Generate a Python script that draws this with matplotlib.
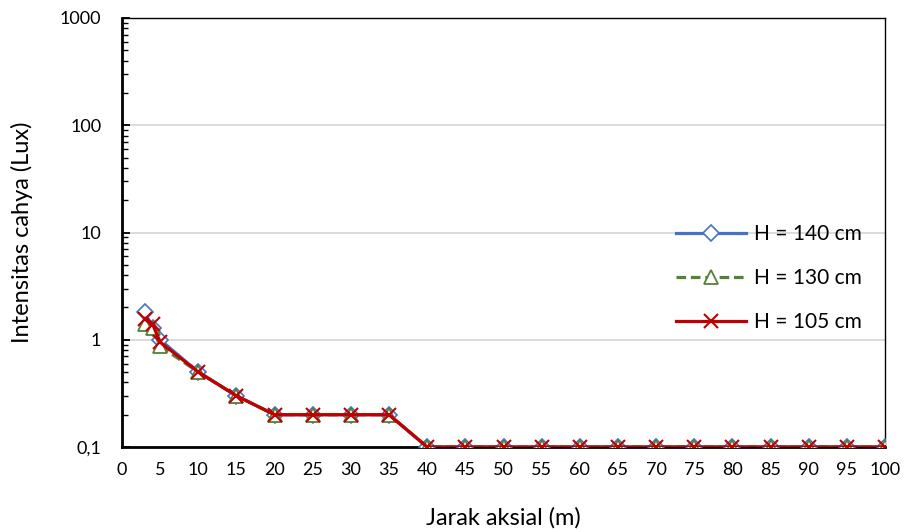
import matplotlib.pyplot as plt
from matplotlib.ticker import FixedLocator, LogLocator, NullFormatter

plt.rcParams['font.family'] = ['Lato', 'DejaVu Sans']

jarak = [3, 4, 5, 10, 15, 20, 25, 30, 35, 40, 45, 50, 55, 60, 65, 70, 75, 80, 85, 90, 95, 100]
h140 = [1.8, 1.3, 1.0, 0.5, 0.3, 0.2, 0.2, 0.2, 0.2, 0.1, 0.1, 0.1, 0.1, 0.1, 0.1, 0.1, 0.1, 0.1, 0.1, 0.1, 0.1, 0.1]
h130 = [1.4, 1.3, 0.87, 0.5, 0.3, 0.2, 0.2, 0.2, 0.2, 0.1, 0.1, 0.1, 0.1, 0.1, 0.1, 0.1, 0.1, 0.1, 0.1, 0.1, 0.1, 0.1]
h105 = [1.55, 1.4, 0.95, 0.5, 0.3, 0.2, 0.2, 0.2, 0.2, 0.1, 0.1, 0.1, 0.1, 0.1, 0.1, 0.1, 0.1, 0.1, 0.1, 0.1, 0.1, 0.1]
ytick_vals = [0.1, 1, 10, 100, 1000]
ytick_labels = ["0,1", "1", "10", "100", "1000"]

fig = plt.figure(figsize=(9.05, 5.32), dpi=100)
ax = fig.add_axes([122 / 905, 1 - 447 / 532, 763 / 905, 429 / 532])

ax.plot(jarak, h140, color="#4472C4", lw=2.3, marker="D", ms=8,
        mfc="white", mec="#4472C4", mew=1.2, label="H = 140 cm", zorder=3)
ax.plot(jarak, h130, color="#548235", lw=2.3, ls=(0, (3, 1.5)), marker="^", ms=9.5,
        mfc="white", mec="#548235", mew=1.3, label="H = 130 cm", zorder=4)
ax.plot(jarak, h105, color="#C00000", lw=2.3, marker="x", ms=10,
        mec="#C00000", mew=1.5, label="H = 105 cm", zorder=5)

ax.set_yscale("log")
ax.set_ylim(0.1, 1000)
ax.set_xlim(0, 100)
ax.set_xticks(range(0, 101, 5))
ax.yaxis.set_major_locator(FixedLocator(ytick_vals))
ax.set_yticklabels(ytick_labels)
ax.yaxis.set_minor_locator(LogLocator(base=10, subs=range(2, 10)))
ax.yaxis.set_minor_formatter(NullFormatter())
ax.tick_params(axis="y", which="major", direction="in", length=6, width=1.3, labelsize=13, pad=15)
ax.tick_params(axis="y", which="minor", direction="in", length=4, width=1.0)
ax.tick_params(axis="x", length=0, labelsize=13, pad=11)
ax.grid(axis="y", which="major", color="#D9D9D9", lw=1.3)
ax.set_axisbelow(True)

for side in ["left", "bottom"]:
    ax.spines[side].set_linewidth(2)
for side in ["top", "right"]:
    ax.spines[side].set_linewidth(1)

ax.set_xlabel("Jarak aksial (m)", fontsize=17, labelpad=21)
ax.set_ylabel("Intensitas cahya (Lux)", fontsize=17, labelpad=19)

ax.legend(loc="center left", bbox_to_anchor=(0.701, 0.393), frameon=False,
          fontsize=15, handlelength=3.4, labelspacing=1.15, handletextpad=0.35)

fig.savefig("out.png", dpi=100)
